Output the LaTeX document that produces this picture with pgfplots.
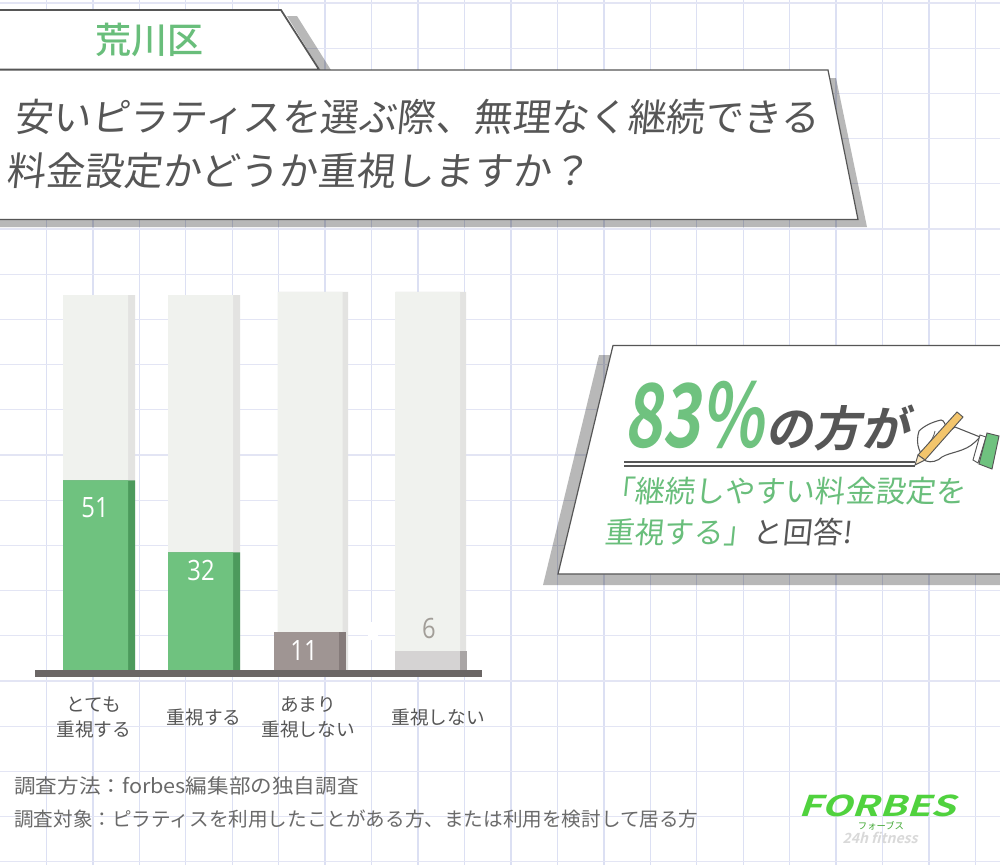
\documentclass[border=0pt]{standalone}
\usepackage{pgfplots}
\pgfplotsset{compat=1.18}
\usepackage{graphicx}
\usepackage{fontspec}
\setmainfont{Noto Sans CJK JP}
\newfontfamily\cjk{Noto Sans CJK JP}
\newfontfamily\cjkm{Noto Sans CJK JP Medium}
\newfontfamily\cjks[FakeSlant=0.1]{Noto Sans CJK JP}
\newfontfamily\cjkb[FakeSlant=0.18]{Noto Sans CJK JP Bold}
\newfontfamily\logof[FakeSlant=0.25]{Noto Sans CJK JP Bold}
\newfontfamily\numf{Open Sans}
\definecolor{gridc}{HTML}{DCE0F3}
\definecolor{gridh}{HTML}{E3E5F4}
\definecolor{ink}{HTML}{565656}
\definecolor{lab}{HTML}{6A6A6A}
\definecolor{grn}{HTML}{6FC27F}
\definecolor{grnd}{HTML}{4C9A5C}
\definecolor{txtg}{HTML}{69BE7B}
\definecolor{bgbar}{HTML}{F0F2EE}
\definecolor{bgside}{HTML}{E3E3E1}
\definecolor{mau}{HTML}{9F9593}
\definecolor{maud}{HTML}{857B7A}
\definecolor{lgr}{HTML}{D5D3D3}
\definecolor{lgrd}{HTML}{A9A5A5}
\definecolor{base}{HTML}{6B6665}
\definecolor{six}{HTML}{A29E98}
\definecolor{logo}{HTML}{50D23E}
\definecolor{pen}{HTML}{F3C56C}
\begin{document}
\begin{tikzpicture}[x=1pt,y=1pt]
\path[use as bounding box] (0,0) rectangle (750pt,648.75pt);
% page background, frames and texts: one axis in pixels of the picture
\begin{axis}[
  at={(0,0)},anchor=south west,scale only axis,width=750pt,height=648.75pt,
  xmin=0,xmax=1000,ymin=0,ymax=865,y dir=reverse,
  axis background/.style={fill=white},
  axis line style={draw=none},tick style={draw=none},
  xticklabels={},yticklabels={},
  xtick={46.45,92.9,...,1000},
  ytick={3,48.2,...,865},
  grid=major,
  x grid style={gridc,line width=1pt},
  y grid style={gridh,line width=1pt},
  clip=true]
% a small rubbed-out patch of the grid
\fill[white] (368,622) rectangle (378,640);
% shadows
\fill[black,opacity=0.28] (287,16)--(297,16)--(331,70)--(320,70)--cycle;
\fill[black,opacity=0.28] (0,220)--(0,227)--(867,227)--(836,78)--(829,78)--(858,220)--cycle;
\fill[black,opacity=0.28] (599,355)--(614,355)--(558,574)--(1000,574)--(1000,585)--(543,585)--cycle;
% tab
\draw[fill=white,draw=ink,line width=1.3pt] (-5,10)--(281,10)--(319,69.5)--(-5,69.5)--cycle;
\node[font=\cjkm\fontsize{27pt}{30pt}\selectfont,text=txtg] at (149,40) {荒川区};
% title panel
\draw[fill=white,draw=ink,line width=0.9pt] (-5,70)--(828,70)--(858,219.5)--(-5,219.5)--cycle;
\node[anchor=west,inner sep=0,font=\cjks\fontsize{28.85pt}{34pt}\selectfont,text=ink] at (14,117) {安いピラティスを選ぶ際、無理なく継続できる};
\node[anchor=west,inner sep=0,font=\cjks\fontsize{29.2pt}{34pt}\selectfont,text=ink] at (6,171) {料金設定かどうか重視しますか？};
% result panel
\draw[fill=white,draw=ink,line width=0.9pt] (613,345.5)--(1005,345.5)--(1005,574)--(558,574)--cycle;
\node[anchor=west,inner sep=0,font=\cjkb\fontsize{66pt}{70pt}\selectfont,text=grn] at (624,415) {\scalebox{0.74}[1]{83\%}};
\node[anchor=west,inner sep=0,font=\cjkb\fontsize{36pt}{40pt}\selectfont,text=ink] at (765,428) {の方が};
\draw[ink,line width=0.9pt] (624,462)--(915,462) (624,466)--(915,466);
\node[anchor=west,inner sep=0,font=\cjks\fontsize{22.6pt}{26pt}\selectfont,text=txtg] at (604,491) {「継続しやすい料金設定を};
\node[anchor=west,inner sep=0,font=\cjks\fontsize{22.3pt}{26pt}\selectfont,text=txtg] at (604,532) {重視する」\textcolor{ink}{と回答!}};
% hand with pencil
\draw[ink,line width=0.8pt,fill=white] (980,437)--(955,427)--(948,432) .. controls (945,424) and (944,420) .. (941,420)
  .. controls (932,422) and (924,426) .. (919,431) .. controls (917,437) and (917,444) .. (919,449)
  .. controls (921,455) and (924,459) .. (926,461) .. controls (931,463) and (938,461) .. (942,457)
  .. controls (950,452) and (965,452) .. (975,442)--cycle;
\draw[ink,line width=0.6pt] (926,447) .. controls (932,440) and (934,436) .. (935,431);
\draw[ink,line width=0.7pt,fill=white] (980,435)--(986,437)--(978,463)--(973,460)--cycle;
\draw[ink,line width=0.7pt,fill=grn] (987,433)--(999,436)--(992,469)--(979,464)--cycle;
\draw[ink,line width=0.7pt,fill=pen] (918,455)--(957,412)--(963,417)--(925,460)--cycle;
\draw[ink,line width=0.7pt,fill=pen!45!white] (918,455)--(915,465)--(925,460)--cycle;
% footer
\node[anchor=west,inner sep=0,font=\cjk\fontsize{15pt}{18pt}\selectfont,text=lab] at (14,786) {\scalebox{1.08}[1]{調査方法：forbes編集部の独自調査}};
\node[anchor=west,inner sep=0,font=\cjk\fontsize{14.7pt}{18pt}\selectfont,text=lab] at (14,819) {調査対象：ピラティスを利用したことがある方、または利用を検討して居る方};
% logo
\node[inner sep=0,font=\logof\fontsize{21.5pt}{24pt}\selectfont,text=logo] at (877,805.5) {\scalebox{1.39}[1]{FORBES}};
\node[inner sep=0,font=\cjk\fontsize{7pt}{8pt}\selectfont,text=logo!80!black] at (881,826) {フォーブス};
\node[inner sep=0,font=\logof\fontsize{10.5pt}{12pt}\selectfont,text=black!15] at (880,838) {24h fitness};
\end{axis}
% the chart
\begin{axis}[
  at={(26.25pt,143.625pt)},anchor=south west,scale only axis,
  width=335.25pt,height=289.55pt,
  xmin=35,xmax=482,ymin=0,ymax=102,
  axis x line*=bottom,axis y line=none,
  axis line style={base,line width=5.25pt,-},
  axis on top,
  xtick={94,204,308,438},
  major tick length=0pt,
  xticklabels={{とても\\重視する},{重視する},{あまり\\重視しない},{重視しない}},
  xticklabel style={align=center,anchor=center,yshift=-33pt,text=ink,
    font=\cjk\fontsize{14pt}{18.75pt}\selectfont},
  clip=false]
% full scale behind each bar
\addplot[ybar,bar shift=0pt,bar width=72,fill=bgside,draw=none] coordinates {(99,100) (204,100)};
\addplot[ybar,bar shift=0pt,bar width=70,fill=bgside,draw=none] coordinates {(313,100.8) (431,100.8)};
\addplot[ybar,bar shift=0pt,bar width=65,fill=bgbar,draw=none] coordinates {(95.5,100) (200.5,100) (310,100.8) (427.5,100.8)};
% answers: side, then face
\addplot[ybar,bar shift=0pt,bar width=72,fill=grnd,draw=none] coordinates {(99,51) (204,32)};
\addplot[ybar,bar shift=0pt,bar width=65,fill=grn,draw=none] coordinates {(95.5,51) (200.5,32)};
\addplot[ybar,bar shift=0pt,bar width=72,fill=maud,draw=none] coordinates {(310,11)};
\addplot[ybar,bar shift=0pt,bar width=65,fill=mau,draw=none] coordinates {(306.5,11)};
\addplot[ybar,bar shift=0pt,bar width=72,fill=lgrd,draw=none] coordinates {(431,6)};
\addplot[ybar,bar shift=0pt,bar width=65,fill=lgr,draw=none] coordinates {(427.5,6)};
\node[font=\numf\fontsize{21pt}{22pt}\selectfont,text=white] at (axis cs:95,43.8) {\scalebox{0.85}[1]{51}};
\node[font=\numf\fontsize{21pt}{22pt}\selectfont,text=white] at (axis cs:201,27.3) {\scalebox{0.85}[1]{32}};
\node[font=\numf\fontsize{21pt}{22pt}\selectfont,text=white] at (axis cs:304,6) {\scalebox{0.85}[1]{11}};
\node[font=\numf\fontsize{21pt}{22pt}\selectfont,text=six] at (axis cs:429,12) {\scalebox{0.85}[1]{6}};
\end{axis}
\end{tikzpicture}
\end{document}
